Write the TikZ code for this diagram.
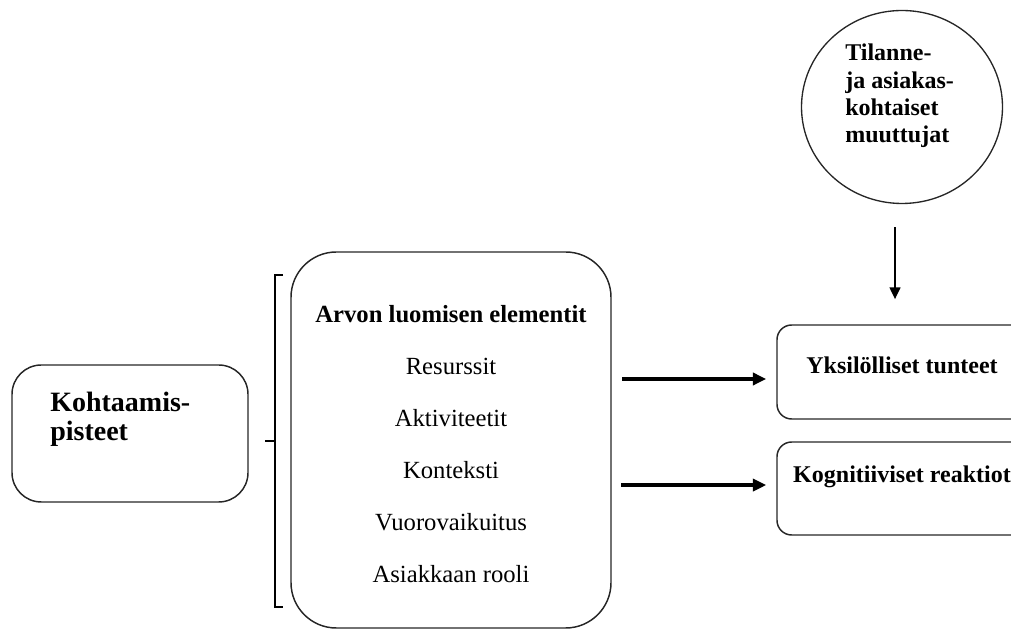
\documentclass[tikz,border=0pt]{standalone}
\usepackage{fontspec}
\setmainfont{Liberation Serif}
\usetikzlibrary{arrows.meta,shapes.geometric}
\begin{document}
\begin{tikzpicture}[x=0.75pt,y=-0.75pt,
  box/.style={draw=black!85,line width=1.1pt,minimum width=#1,inner sep=0pt},
  boldtxt/.style={font=\fontsize{18}{20}\selectfont\bfseries,inner sep=0pt},
  bigarrow/.style={line width=2.8pt,-{Triangle[length=10pt,width=9pt]}},
  downarrow/.style={line width=1.9pt,-{Triangle[length=9pt,width=8pt]}}]
\useasboundingbox (0,0) rectangle (1011,630);
\clip (0,0) rectangle (1011,630);
% left box
\node[box=177pt,minimum height=102.75pt,rounded corners=22pt] (kp) at (130,433.5) {};
\node[boldtxt,font=\fontsize{21}{22}\selectfont\bfseries,align=left,anchor=west] (kpt) at (50,419) {Kohtaamis-\\pisteet};
% bracket
\draw[line width=2pt] (283,275) -- (275,275) -- (275,607) -- (283,607);
\draw[line width=2pt] (275,441) -- (265,441);
% middle box
\node[box=240pt,minimum height=282pt,rounded corners=34pt] (mid) at (451,440) {};
\node[inner sep=0pt,align=center,font=\fontsize{18.5}{39}\selectfont] (midt) at (451,444)
  {\textbf{Arvon luomisen elementit}\\Resurssit\\Aktiviteetit\\Konteksti\\Vuorovaikuitus\\Asiakkaan rooli};
% circle
\node[draw=black!85,line width=1pt,ellipse,minimum width=150.75pt,minimum height=144.75pt,inner sep=0pt] (circ) at (902,107) {};
\node[boldtxt,font=\fontsize{18}{20.5}\selectfont\bfseries,align=left,anchor=west] (circt) at (845,96) {Tilanne-\\ja asiakas-\\kohtaiset\\muuttujat};
% right boxes
\node[box=187.5pt,minimum height=70.5pt,rounded corners=11pt] (r1) at (902,372) {};
\node[boldtxt] (r1t) at (902,365) {Yksilölliset tunteet};
\node[box=187.5pt,minimum height=69.75pt,rounded corners=11pt] (r2) at (902,488.5) {};
\node[boldtxt] (r2t) at (902,477) {Kognitiiviset reaktiot};
% arrows
\coordinate (a1) at ([yshift=-5.25pt]r1.west);
\coordinate (a2) at ([yshift=2.6pt]r2.west);
\draw[bigarrow,shorten <=8pt,shorten >=7.5pt] (mid.east |- a1) -- (a1);
\draw[bigarrow,shorten <=7pt,shorten >=7.5pt] (mid.east |- a2) -- (a2);
\coordinate (d1) at ([xshift=-5.25pt]circ.south);
\draw[downarrow,shorten <=17.5pt,shorten >=18.75pt] (d1) -- (d1 |- r1.north);
\end{tikzpicture}
\end{document}
